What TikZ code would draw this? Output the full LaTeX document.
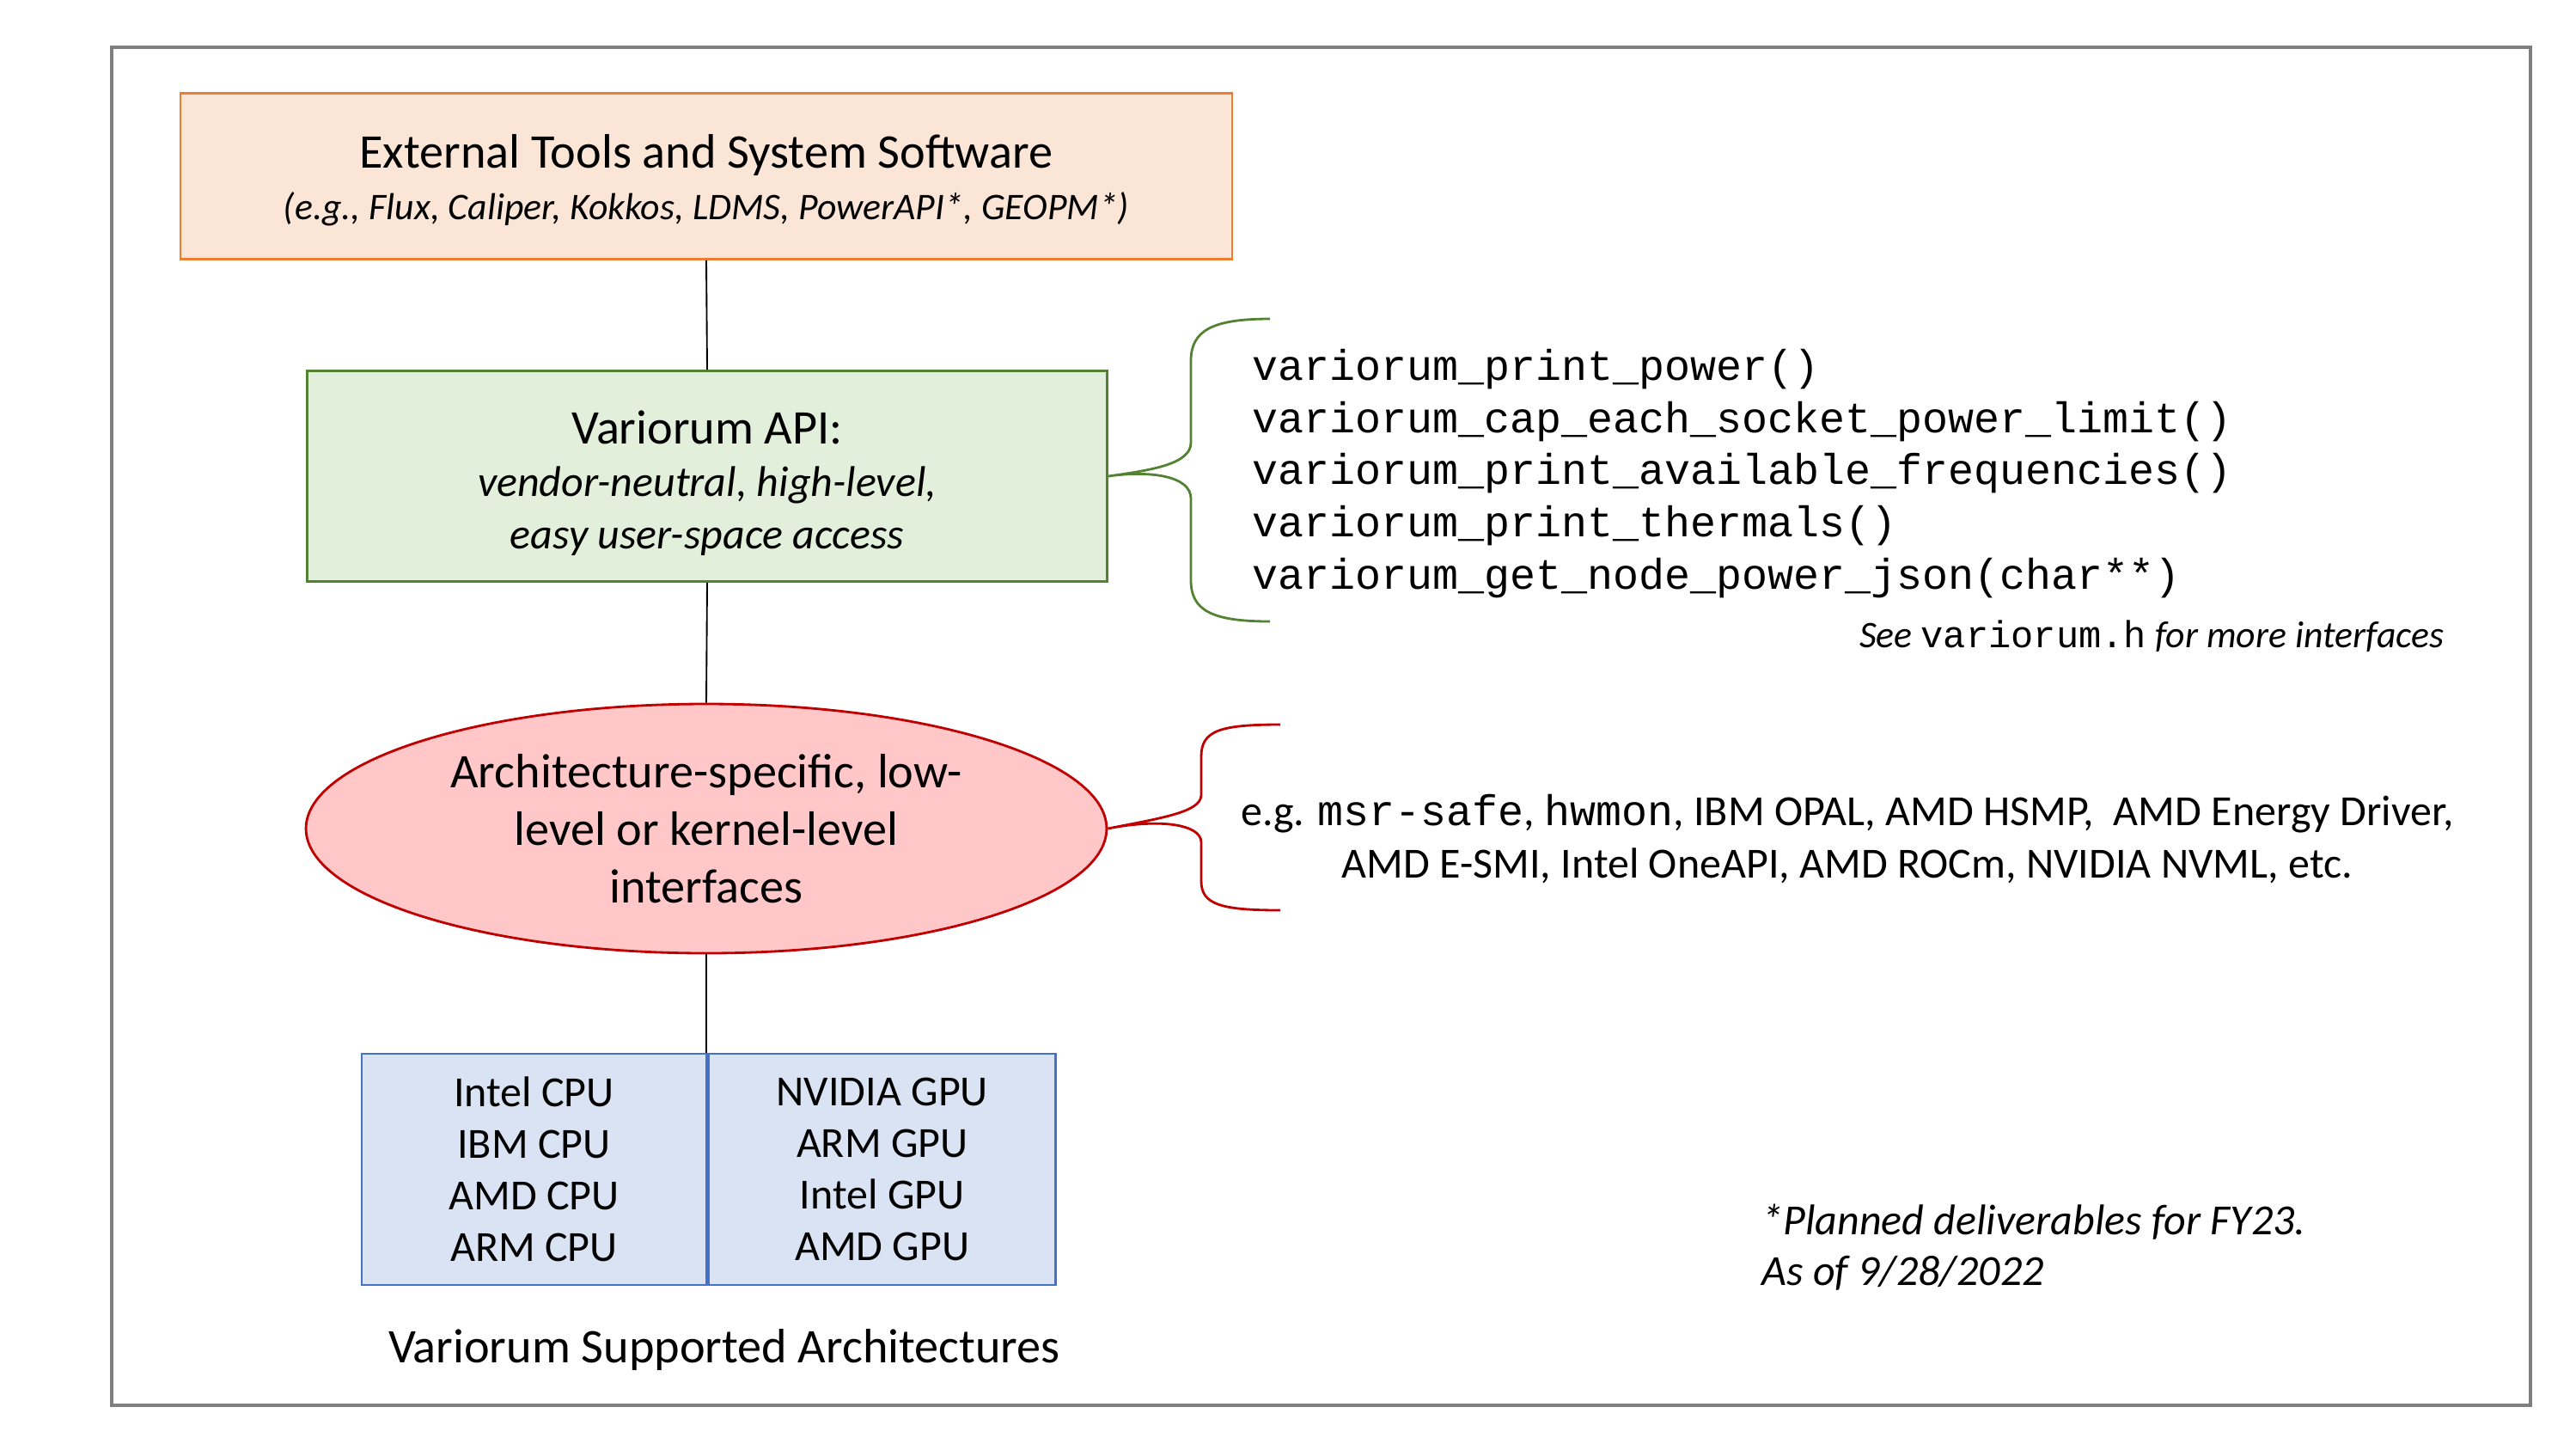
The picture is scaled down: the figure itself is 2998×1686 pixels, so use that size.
\documentclass[tikz,border=0pt]{standalone}
\usepackage{fontspec}
\setmainfont{Carlito}
\setmonofont{Liberation Mono}
\usetikzlibrary{shapes.geometric}
\definecolor{framegray}{HTML}{7F7F7F}
\definecolor{orfill}{HTML}{FBE5D6}
\definecolor{ordraw}{HTML}{ED7D31}
\definecolor{grfill}{HTML}{E2EFDA}
\definecolor{grdraw}{HTML}{548235}
\definecolor{rdfill}{HTML}{FFC7C7}
\definecolor{rddraw}{HTML}{C00000}
\definecolor{blfill}{HTML}{DAE3F3}
\definecolor{bldraw}{HTML}{4472C4}
\tikzset{
  fs/.style args={#1/#2}{font=\fontsize{#1}{#2}\selectfont},
  boxbase/.style={draw, line width=0.9pt, inner sep=0pt, align=center},
  link/.style={draw=black, line width=0.6pt},
  bracestyle/.style={line width=0.9pt},
  plain/.style={inner sep=0pt},
}
\begin{document}
\begin{tikzpicture}[x=0.32pt,y=-0.32pt]
\useasboundingbox (0,0) rectangle (2998,1686);
\draw[framegray, line width=1pt] (130,55) rectangle (2945,1635);

% External tools box
\node[boxbase, draw=ordraw, fill=orfill, minimum width=391.7pt, minimum height=61.8pt] (ext) at (822,205) {};
\node[plain, align=center] (exttext) at (822,210)
  {{\fontsize{18}{21}\selectfont External Tools and System Software}\\[5pt]
   {\fontsize{14}{17}\selectfont\itshape (e.g., Flux, Caliper, Kokkos, LDMS, PowerAPI*, GEOPM*)}};

% Variorum API box
\node[boxbase, draw=grdraw, fill=grfill, minimum width=297.9pt, minimum height=78.4pt] (api) at (823,554) {};
\node[plain, align=center, fs=16/19.5] (apitext) at (823,562)
  {{\fontsize{18}{21}\selectfont Variorum API:}\\
   \itshape vendor-neutral, high-level,\\
   \itshape easy user-space access};

% Ellipse
\node[ellipse, boxbase, draw=rddraw, fill=rdfill, minimum width=298.2pt, minimum height=92.8pt, fs=18/21.5] (arch) at (822,964)
  {Architecture-specific, low-\\level or kernel-level\\interfaces};

% Architectures table
\node[boxbase, draw=bldraw, fill=blfill, minimum width=128.3pt, minimum height=86.1pt, fs=16/19.2] (cpu) at (621.5,1360.5)
  {Intel CPU\\IBM CPU\\AMD CPU\\ARM CPU};
\node[boxbase, draw=bldraw, fill=blfill, minimum width=129.3pt, minimum height=86.1pt, fs=16/19.2, anchor=west] (gpu) at (cpu.east)
  {NVIDIA GPU\\ARM GPU\\Intel GPU\\AMD GPU};

\node[plain, fs=18/21] (archlabel) at (843,1570) {Variorum Supported Architectures};

% Connectors
\draw[link] (ext.south) -- (api.north);
\draw[link] (api.south) -- (arch.north);
\draw[link] (arch.south) -- (arch.south |- cpu.north);

% Green brace
\coordinate (gtip) at (api.east);
\draw[grdraw, bracestyle] (1478,371) .. controls (1410,371) and (1386,385) .. (1386,420)
  -- (1386,515) .. controls (1386,540) and (1340,547) .. (gtip)
  .. controls (1340,547) and (1386,554) .. (1386,580)
  -- (1386,675) .. controls (1386,710) and (1410,723) .. (1478,723);

\node[plain, anchor=west, align=left, font=\fontsize{16}{19.5}\selectfont\ttfamily] (code) at (1457,551)
  {variorum\_print\_power()\\
   variorum\_cap\_each\_socket\_power\_limit()\\
   variorum\_print\_available\_frequencies()\\
   variorum\_print\_thermals()\\
   variorum\_get\_node\_power\_json(char**)};
\node[plain, anchor=east, font=\fontsize{14}{17}\selectfont\itshape] (seeh) at (2845,740)
  {See {\upshape\ttfamily variorum.h} for more interfaces};

% Red brace
\coordinate (rtip) at (arch.east);
\draw[rddraw, bracestyle] (1490,843) .. controls (1420,843) and (1398,850) .. (1398,880)
  -- (1398,925) .. controls (1398,945) and (1350,952) .. (rtip)
  .. controls (1350,952) and (1398,959) .. (1398,980)
  -- (1398,1025) .. controls (1398,1052) and (1420,1059) .. (1490,1059);

\node[plain, align=center, fs=16/19.5] (ifaces) at (2150,976)
  {e.g. {\ttfamily msr-safe}, {\ttfamily hwmon}, IBM OPAL, AMD HSMP,\ \ AMD Energy Driver,\\
   AMD E-SMI, Intel OneAPI, AMD ROCm, NVIDIA NVML, etc.};

% Footnote
\node[plain, anchor=west, align=left, font=\fontsize{16}{19}\selectfont\itshape] (note) at (2050,1451)
  {*Planned deliverables for FY23.\\As of 9/28/2022};
\end{tikzpicture}
\end{document}
